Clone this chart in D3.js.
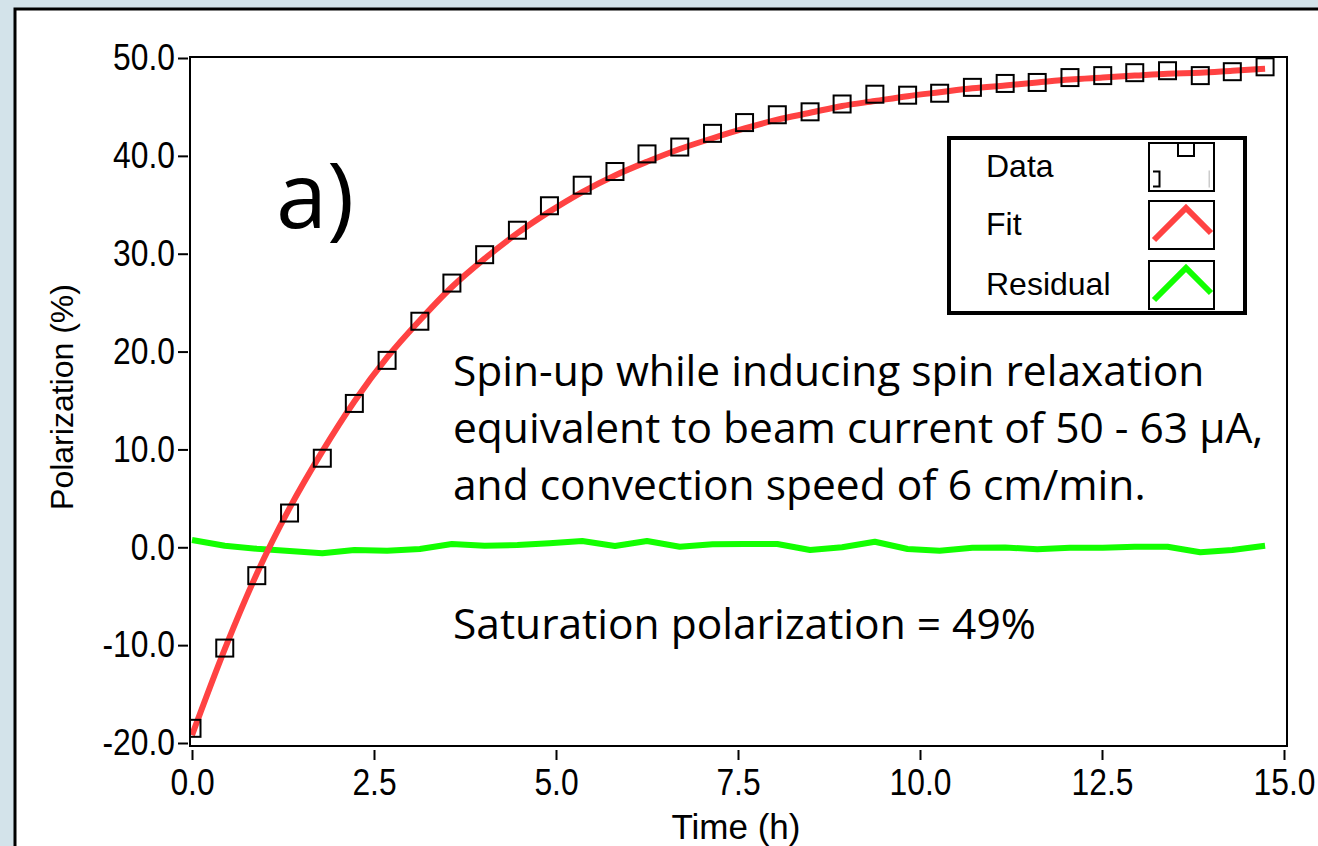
<!DOCTYPE html>
<html>
<head>
<meta charset="utf-8">
<script src="https://cdn.jsdelivr.net/npm/d3@7"></script>
<style>
  body{margin:0;background:#d3e3ea;overflow:hidden;}
</style>
</head>
<body>
<script>
// data
var times=[0.00,0.45,0.89,1.34,1.79,2.23,2.68,3.13,3.57,4.02,4.47,4.91,5.36,5.81,6.25,6.70,7.15,
  7.59,8.04,8.49,8.93,9.38,9.83,10.27,10.72,11.17,11.61,12.06,12.51,12.95,13.40,13.85,14.29,14.74];
var polData=[-18.5,-10.3,-2.9,3.5,9.1,14.7,19.1,23.1,27.0,29.9,32.4,34.9,37.0,38.4,40.2,40.9,42.3,
  43.4,44.2,44.5,45.3,46.3,46.2,46.4,47.0,47.4,47.5,48.0,48.2,48.5,48.7,48.2,48.6,49.1];
var fitValues=[-19.2,-10.4,-2.7,4.0,9.8,14.9,19.4,23.2,26.6,29.5,32.1,34.3,36.3,38.0,39.4,40.7,41.8,
  42.8,43.7,44.4,45.1,45.6,46.1,46.5,46.9,47.2,47.5,47.8,48.0,48.2,48.4,48.5,48.7,48.9];
var residuals=[0.75,0.16,-0.15,-0.38,-0.61,-0.28,-0.35,-0.17,0.34,0.16,0.23,0.41,0.64,0.13,0.64,0.06,0.31,
  0.34,0.34,-0.28,0.0,0.57,-0.17,-0.35,-0.04,-0.02,-0.2,-0.04,-0.04,0.06,0.06,-0.51,-0.28,0.16];
var xTicks=[0,2.5,5,7.5,10,12.5,15];
var yTicks=[-20,-10,0,10,20,30,40,50];
var legendLabels=["Data","Fit","Residual"];
var legendColors=["#000","#ff4242","#12ff00"];
var notes=["Spin-up while inducing spin relaxation","equivalent to beam current of 50 - 63 \u03BCA,","and convection speed of 6 cm/min."];

var width=1318;
var height=846;
var sans="'Liberation Sans',Arial,sans-serif";
var myriad="'Open Sans','Noto Sans',sans-serif";

var svg=d3.select("body")
    .append("svg")
    .attr("width",width)
    .attr("height",height);

// white panel
svg.append("rect")
    .attr("x",15).attr("y",9)
    .attr("width",1400).attr("height",900)
    .attr("fill","#fff")
    .attr("stroke","#000")
    .attr("stroke-width",3);

var x=d3.scaleLinear().domain([0,15]).range([192,1284]);
var y=d3.scaleLinear().domain([-20,50]).range([743,58]);

svg.append("clipPath").attr("id","plotclip")
    .append("rect")
    .attr("x",191).attr("y",58).attr("width",1095).attr("height",687);

function fmt(d){return d.toFixed(1);}

// axes
var xAxis=svg.append("g")
    .attr("transform","translate(0,750)")
    .call(d3.axisBottom(x).tickValues(xTicks).tickFormat(fmt).tickSize(10).tickPadding(9));
var yAxis=svg.append("g")
    .attr("transform","translate(188,0)")
    .call(d3.axisLeft(y).tickValues(yTicks).tickFormat(fmt).tickSize(10).tickPadding(3));
[xAxis,yAxis].forEach(function(a){
    a.select(".domain").remove();
    a.selectAll(".tick line").attr("stroke","#000").attr("stroke-width",2);
    a.selectAll(".tick text")
        .attr("fill","#000")
        .attr("transform","scale(0.86,1)")
        .style("font-family",sans)
        .style("font-size","37px");
});
yAxis.selectAll(".tick text").attr("x",-13/0.86);

// plot frame
svg.append("rect")
    .attr("x",190).attr("y",57)
    .attr("width",1097).attr("height",689)
    .attr("fill","none")
    .attr("stroke","#000")
    .attr("stroke-width",2);

var plot=svg.append("g").attr("clip-path","url(#plotclip)");

var resLine=d3.line()
    .x(function(d,i){return x(times[i]);})
    .y(function(d){return y(d);});
plot.append("path")
    .datum(residuals)
    .attr("d",resLine)
    .attr("fill","none")
    .attr("stroke",legendColors[2])
    .attr("stroke-width",6)
    .attr("stroke-linejoin","round");

var fitLine=d3.line()
    .curve(d3.curveMonotoneX)
    .x(function(d,i){return x(times[i]);})
    .y(function(d){return y(d);});
plot.append("path")
    .datum(fitValues)
    .attr("d",fitLine)
    .attr("fill","none")
    .attr("stroke",legendColors[1])
    .attr("stroke-width",6);

var sq=17;
plot.selectAll("rect.pt")
    .data(polData)
    .enter()
    .append("rect")
    .attr("class","pt")
    .attr("x",function(d,i){return x(times[i])-sq/2;})
    .attr("y",function(d){return y(d)-sq/2;})
    .attr("width",sq)
    .attr("height",sq)
    .attr("fill","none")
    .attr("stroke","#000")
    .attr("stroke-width",2);

// axis titles
svg.append("text")
    .attr("x",736).attr("y",839)
    .attr("text-anchor","middle")
    .style("font-family",sans)
    .style("font-size","35px")
    .text("Time (h)");
svg.append("text")
    .attr("transform","translate(73,397) rotate(-90)")
    .attr("text-anchor","middle")
    .style("font-family",sans)
    .style("font-size","32px")
    .text("Polarization (%)");

// annotations
svg.append("text")
    .attr("x",276).attr("y",228)
    .style("font-family",myriad)
    .style("font-size","92px")
    .text("a)");
svg.selectAll("text.note")
    .data(notes)
    .enter()
    .append("text")
    .attr("class","note")
    .attr("x",453)
    .attr("y",function(d,i){return 386+i*57;})
    .style("font-family",myriad)
    .style("font-size","42.5px")
    .text(function(d){return d;});
svg.append("text")
    .attr("x",453).attr("y",639)
    .style("font-family",myriad)
    .style("font-size","42.5px")
    .text("Saturation polarization = 49%");

// legend
var lg=svg.append("g");
lg.append("rect")
    .attr("x",949).attr("y",138)
    .attr("width",296).attr("height",175)
    .attr("fill","#fff")
    .attr("stroke","#000")
    .attr("stroke-width",4);
var rowY=[143,201,261];
legendLabels.forEach(function(lab,i){
    lg.append("text")
        .attr("x",986).attr("y",rowY[i]+34)
        .style("font-family",sans)
        .style("font-size","32px")
        .text(lab);
    lg.append("rect")
        .attr("x",1149).attr("y",rowY[i])
        .attr("width",65).attr("height",48)
        .attr("fill","#fff")
        .attr("stroke","#000")
        .attr("stroke-width",2);
});
lg.append("clipPath").attr("id","swclip")
    .append("rect").attr("x",1153).attr("y",144).attr("width",57).attr("height",46);
var sw=lg.append("g").attr("clip-path","url(#swclip)");
[[1186,148,16],[1152,179,15],[1217,179,15]].forEach(function(p){
    sw.append("rect")
        .attr("x",p[0]-p[2]/2).attr("y",p[1]-p[2]/2)
        .attr("width",p[2]).attr("height",p[2])
        .attr("fill","none")
        .attr("stroke",p[0]>1210?"#ccc":"#000")
        .attr("stroke-width",2);
});
[1,2].forEach(function(i){
    var top=rowY[i];
    lg.append("path")
        .attr("d","M1154,"+(top+39)+"L1186,"+(top+7)+"L1211,"+(top+32))
        .attr("fill","none")
        .attr("stroke",legendColors[i])
        .attr("stroke-width",6);
});
</script>
</body>
</html>
